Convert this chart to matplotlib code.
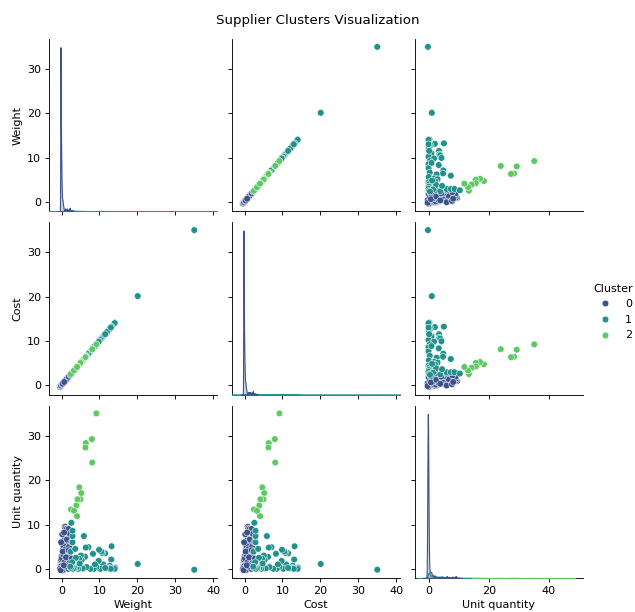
import matplotlib
matplotlib.use("Agg")
import matplotlib.pyplot as plt
import numpy as np
import pandas as pd
import seaborn as sns

# ---- Cluster 0: dense core of small suppliers near the origin ----
weight_c0_core = [
    -0.33, -0.32, -0.31, -0.30, -0.29, -0.28, -0.27, -0.26, -0.25, -0.24, -0.23, -0.22, -0.21, -0.20, -0.19, -0.18, -0.17, -0.16, -0.15, -0.14,
    -0.13, -0.12, -0.11, -0.10, -0.09, -0.08, -0.07, -0.06, -0.05, -0.04, -0.03, -0.02, -0.01, 0.00, 0.01, 0.02, 0.03, 0.04, 0.05, 0.06,
    -0.33, -0.31, -0.30, -0.30, -0.29, -0.29, -0.28, -0.27, -0.27, -0.26, -0.25, -0.24, -0.24, -0.23, -0.22, -0.21, -0.20, -0.19, -0.18, -0.17,
    -0.32, -0.32, -0.31, -0.30, -0.30, -0.29, -0.28, -0.28, -0.27, -0.26, -0.26, -0.25, -0.25, -0.24, -0.23, -0.22, -0.22, -0.21, -0.20, -0.20,
    -0.31, -0.30, -0.29, -0.28, -0.27, -0.26, -0.25, -0.24, -0.22, -0.20, -0.18, -0.16, -0.14, -0.12, -0.10, -0.08, -0.06, -0.04, -0.02, 0.00,
    -0.33, -0.32, -0.31, -0.31, -0.30, -0.29, -0.28, -0.27, -0.26, -0.25, -0.23, -0.21, -0.19, -0.17, -0.15, -0.13, -0.11, -0.09, -0.07, -0.05,
    0.02, 0.04, 0.06, 0.08, 0.10, 0.12, 0.14, 0.16, 0.18, 0.20, 0.22, 0.24, 0.26, 0.28, 0.30, 0.33, 0.36, 0.40, 0.45, 0.50,
    -0.30, -0.30, -0.29, -0.29, -0.28, -0.28, -0.27, -0.27, -0.26, -0.26, -0.25, -0.25, -0.24, -0.24, -0.23, -0.23, -0.22, -0.22, -0.21, -0.21,
    -0.32, -0.31, -0.30, -0.29, -0.28, -0.27, -0.26, -0.25, -0.24, -0.23, -0.21, -0.19, -0.17, -0.15, -0.12, -0.09, -0.06, -0.03, 0.01, 0.05,
    -0.33, -0.31, -0.30, -0.29, -0.28, -0.27, -0.26, -0.25, -0.24, -0.23, -0.22, -0.21, -0.20, -0.19, -0.18, -0.17, -0.16, -0.14, -0.12, -0.10,
    -0.31, -0.31, -0.30, -0.30, -0.29, -0.28, -0.27, -0.26, -0.25, -0.24, -0.22, -0.20, -0.18, -0.15, -0.11, -0.07, -0.02, 0.04, 0.11, 0.20,
    -0.32, -0.30, -0.29, -0.28, -0.27, -0.26, -0.25, -0.24, -0.23, -0.22, -0.21, -0.20, -0.19, -0.18, -0.16, -0.14, -0.12, -0.10, -0.08, -0.06,
    -0.30, -0.29, -0.28, -0.27, -0.26, -0.25, -0.24, -0.23, -0.22, -0.21, -0.20, -0.18, -0.16, -0.13, -0.10, -0.05, 0.00, 0.08, 0.16, 0.26,
    -0.33, -0.32, -0.30, -0.29, -0.28, -0.27, -0.26, -0.25, -0.24, -0.23, -0.22, -0.21, -0.20, -0.19, -0.17, -0.15, -0.13, -0.11, -0.09, -0.07,
    -0.31, -0.29, -0.28, -0.26, -0.25, -0.23, -0.22, -0.20, -0.18, -0.16, -0.13, -0.10, -0.06, -0.02, 0.03, 0.09, 0.15, 0.23, 0.32, 0.42,
]
cost_c0_core = [
    -0.33, -0.32, -0.31, -0.30, -0.29, -0.28, -0.27, -0.26, -0.25, -0.24, -0.23, -0.22, -0.21, -0.20, -0.19, -0.18, -0.17, -0.16, -0.15, -0.14,
    -0.13, -0.12, -0.11, -0.10, -0.09, -0.08, -0.07, -0.06, -0.05, -0.04, -0.03, -0.02, -0.01, 0.00, 0.01, 0.02, 0.03, 0.04, 0.05, 0.06,
    -0.33, -0.31, -0.30, -0.30, -0.29, -0.29, -0.28, -0.27, -0.27, -0.26, -0.25, -0.24, -0.24, -0.23, -0.22, -0.21, -0.20, -0.19, -0.18, -0.17,
    -0.32, -0.32, -0.31, -0.30, -0.30, -0.29, -0.28, -0.28, -0.27, -0.26, -0.26, -0.25, -0.25, -0.24, -0.23, -0.22, -0.22, -0.21, -0.20, -0.20,
    -0.31, -0.30, -0.29, -0.28, -0.27, -0.26, -0.25, -0.24, -0.22, -0.20, -0.18, -0.16, -0.14, -0.12, -0.10, -0.08, -0.06, -0.04, -0.02, 0.00,
    -0.33, -0.32, -0.31, -0.31, -0.30, -0.29, -0.28, -0.27, -0.26, -0.25, -0.23, -0.21, -0.19, -0.17, -0.15, -0.13, -0.11, -0.09, -0.07, -0.05,
    0.02, 0.04, 0.06, 0.08, 0.10, 0.12, 0.14, 0.16, 0.18, 0.20, 0.22, 0.24, 0.26, 0.28, 0.30, 0.33, 0.36, 0.40, 0.45, 0.50,
    -0.30, -0.30, -0.29, -0.29, -0.28, -0.28, -0.27, -0.27, -0.26, -0.26, -0.25, -0.25, -0.24, -0.24, -0.23, -0.23, -0.22, -0.22, -0.21, -0.21,
    -0.32, -0.31, -0.30, -0.29, -0.28, -0.27, -0.26, -0.25, -0.24, -0.23, -0.21, -0.19, -0.17, -0.15, -0.12, -0.09, -0.06, -0.03, 0.01, 0.05,
    -0.33, -0.31, -0.30, -0.29, -0.28, -0.27, -0.26, -0.25, -0.24, -0.23, -0.22, -0.21, -0.20, -0.19, -0.18, -0.17, -0.16, -0.14, -0.12, -0.10,
    -0.31, -0.31, -0.30, -0.30, -0.29, -0.28, -0.27, -0.26, -0.25, -0.24, -0.22, -0.20, -0.18, -0.15, -0.11, -0.07, -0.02, 0.04, 0.11, 0.20,
    -0.32, -0.30, -0.29, -0.28, -0.27, -0.26, -0.25, -0.24, -0.23, -0.22, -0.21, -0.20, -0.19, -0.18, -0.16, -0.14, -0.12, -0.10, -0.08, -0.06,
    -0.30, -0.29, -0.28, -0.27, -0.26, -0.25, -0.24, -0.23, -0.22, -0.21, -0.20, -0.18, -0.16, -0.13, -0.10, -0.05, 0.00, 0.08, 0.16, 0.26,
    -0.33, -0.32, -0.30, -0.29, -0.28, -0.27, -0.26, -0.25, -0.24, -0.23, -0.22, -0.21, -0.20, -0.19, -0.17, -0.15, -0.13, -0.11, -0.09, -0.07,
    -0.31, -0.29, -0.28, -0.26, -0.25, -0.23, -0.22, -0.20, -0.18, -0.16, -0.13, -0.10, -0.06, -0.02, 0.03, 0.09, 0.15, 0.23, 0.32, 0.42,
]
unitq_c0_core = [
    -0.30, 0.10, -0.28, -0.22, -0.25, 0.02, -0.30, 0.80, -0.20, -0.15, -0.29, -0.05, -0.18, -0.27, -0.12, -0.22, 0.05, -0.30, -0.26, -0.15,
    0.00, -0.30, -0.24, -0.26, -0.10, 0.50, -0.29, -0.18, -0.12, -0.30, -0.21, -0.24, -0.02, -0.28, -0.28, 1.40, -0.12, -0.19, -0.30, -0.08,
    -0.29, -0.20, -0.16, -0.30, 0.06, -0.14, -0.23, -0.27, -0.30, -0.25, -0.08, 1.00, -0.25, -0.19, -0.30, -0.04, -0.27, -0.21, -0.11, -0.30,
    -0.22, -0.30, -0.16, 0.04, -0.28, -0.17, -0.30, 0.38, -0.11, -0.26, -0.09, -0.29, -0.30, -0.19, -0.23, -0.23, 0.01, -0.30, 1.25, -0.07,
    -0.30, -0.13, -0.22, -0.30, -0.21, -0.27, 0.85, -0.13, -0.03, -0.30, -0.28, -0.25, -0.06, -0.24, -0.30, 2.00, -0.17, -0.26, -0.29, -0.01,
    -0.27, -0.30, -0.07, -0.20, -0.24, -0.09, -0.16, -0.30, -0.29, -0.20, 0.26, -0.30, -0.03, -0.25, -0.28, -0.13, -0.30, -0.15, -0.22, -0.26,
    0.95, -0.29, -0.12, -0.24, -0.30, 0.05, -0.27, -0.23, -0.30, -0.17, -0.06, -0.21, -0.27, 0.41, -0.30, -0.18, -0.09, -0.30, -0.26, -0.10,
    -0.30, -0.21, -0.23, -0.30, 0.00, -0.26, -0.14, -0.14, -0.30, 0.88, -0.04, -0.21, -0.28, -0.30, -0.12, -0.19, -0.19, -0.29, -0.30, -0.08,
    -0.15, -0.30, -0.25, 0.60, -0.10, -0.30, 0.03, -0.27, -0.27, -0.16, -0.24, -0.30, -0.08, -0.22, -0.20, -0.30, -0.02, 0.23, -0.29, -0.18,
    -0.28, 0.04, -0.30, -0.13, -0.24, -0.24, -0.18, -0.30, -0.22, -0.07, -0.30, -0.27, -0.20, 0.56, -0.30, -0.10, 1.50, -0.26, -0.30, 0.02,
    -0.30, -0.26, -0.17, -0.30, -0.14, -0.28, 0.34, -0.05, -0.30, -0.20, -0.23, -0.07, -0.30, -0.27, -0.11, -0.30, -0.20, -0.26, 0.82, -0.30,
    0.06, -0.30, -0.09, -0.21, -0.29, -0.30, 0.72, -0.18, -0.11, -0.30, -0.01, -0.25, -0.25, -0.30, -0.16, -0.24, -0.14, -0.30, -0.19, -0.22,
    -0.30, -0.27, -0.19, -0.06, -0.30, -0.28, -0.21, 0.25, -0.30, 0.01, -0.23, -0.30, -0.15, -0.13, -0.28, -0.26, -0.30, -0.03, 1.30, -0.24,
    -0.18, -0.30, -0.20, 0.09, -0.30, -0.27, -0.12, -0.30, -0.25, -0.26, 0.04, -0.22, -0.30, -0.08, -0.22, -0.30, 2.10, -0.17, -0.30, -0.12,
    -0.30, 0.49, -0.23, -0.30, -0.17, -0.04, -0.30, -0.24, -0.19, -0.20, -0.30, -0.10, 0.63, -0.27, -0.30, 0.05, -0.21, -0.30, -0.13, -0.26,
]

# ---- Cluster 0: spread points ----
weight_c0_spread = [0.9, 1.3, 2.4, 1.0, 2.2, 0.9, 1.3, 0.3, 0.4, 0.0,
                    -0.4, -0.2, 0.1, 0.5, 1.4, 1.4, 1.9, 2.2, 1.0, 1.6,
                    2.9, 1.8, 2.0, 0.5, 1.5, 2.5, 0.8, 2.0, -0.1, 0.2,
                    2.6, 1.1, 1.7, 2.2, 0.6, 1.2, 2.7, 0.3, 1.9, 0.7]
cost_c0_spread = [0.9, 1.3, 2.4, 1.0, 2.2, 0.9, 1.3, 0.3, 0.4, 0.0,
                  -0.4, -0.2, 0.1, 0.5, 1.4, 1.4, 1.9, 2.2, 1.0, 1.6,
                  2.9, 1.8, 2.0, 0.5, 1.5, 2.5, 0.8, 2.0, -0.1, 0.2,
                  2.6, 1.1, 1.7, 2.2, 0.6, 1.2, 2.7, 0.3, 1.9, 0.7]
unitq_c0_spread = [9.5, 8.7, 8.4, 9.1, 7.2, 6.8, 6.1, 5.5, 4.4, 2.8,
                   0.0, -0.3, 2.4, 5.2, 6.6, 9.0, 9.0, 7.9, 4.4, 3.5,
                   0.1, 0.0, 5.0, 3.2, 2.0, 1.2, 1.5, 3.0, 6.0, 7.8,
                   6.0, 0.5, 1.0, 1.9, 0.8, 2.6, 2.3, 3.9, 4.2, 8.2]

# ---- Cluster 1 ----
weight_c1 = [35.0, 20.1, 14.1, 14.0, 13.1, 13.2, 12.7, 12.6, 11.5, 11.0,
             10.7, 10.5, 10.2, 9.9, 9.8, 9.2, 8.5, 8.3, 7.6, 7.1,
             6.6, 6.4, 6.2, 5.9, 5.6, 5.3, 5.1, 4.4, 4.6, 4.0,
             3.8, 3.4, 3.0, 2.9, 2.9, 2.9, 2.6, 2.5, 2.8, 2.4,
             12.0, 13.0, 11.5, 8.8, 4.8, 3.6, 2.3]
cost_c1 = [35.0, 20.1, 14.1, 14.0, 13.1, 13.2, 12.7, 12.6, 11.5, 11.0,
           10.7, 10.5, 10.2, 9.9, 9.8, 9.2, 8.5, 8.3, 7.6, 7.1,
           6.6, 6.4, 6.2, 5.9, 5.6, 5.3, 5.1, 4.4, 4.6, 4.0,
           3.8, 3.4, 3.0, 2.9, 2.9, 2.9, 2.6, 2.5, 2.8, 2.4,
           12.0, 13.0, 11.5, 8.8, 4.8, 3.6, 2.3]
unitq_c1 = [-0.2, 1.1, 0.3, 0.0, 2.1, 5.1, 0.7, 0.2, 3.5, 1.0,
            3.6, 3.9, 0.0, 4.3, 1.8, 0.4, 0.0, 3.4, 0.0, 4.9,
            0.4, 4.8, 2.7, 7.4, 0.1, 2.0, 3.0, 0.0, 2.3, 0.3,
            2.5, 0.1, 0.0, 6.0, 7.4, 8.6, 10.4, 0.2, 1.5, 3.9,
            0.1, 0.0, 0.2, 1.0, 1.2, 4.5, 0.5]

# ---- Cluster 2 ----
weight_c2 = [9.2, 8.0, 6.4, 6.3, 8.1, 4.7, 5.2, 5.0, 4.2, 3.9, 2.5, 3.3, 4.1]
cost_c2 = [9.2, 8.0, 6.4, 6.3, 8.1, 4.7, 5.2, 5.0, 4.2, 3.9, 2.5, 3.3, 4.1]
unitq_c2 = [35.1, 29.3, 28.4, 27.4, 24.0, 18.4, 17.1, 15.7, 15.7, 14.3, 13.4, 13.1, 11.9]

groups = [
    (0, weight_c0_core + weight_c0_spread, cost_c0_core + cost_c0_spread,
     unitq_c0_core + unitq_c0_spread),
    (1, weight_c1, cost_c1, unitq_c1),
    (2, weight_c2, cost_c2, unitq_c2),
]
frames = [pd.DataFrame({"Weight": w, "Cost": c, "Unit quantity": u, "Cluster": lab})
          for lab, w, c, u in groups]
df = pd.concat(frames, ignore_index=True)

DPI = 80
plt.rcParams["figure.dpi"] = DPI
palette = sns.color_palette("viridis", 3)
g = sns.pairplot(df, hue="Cluster", palette=palette,
                 diag_kws=dict(bw_adjust=0.25, cut=12))
fig = g.figure
fig.set_size_inches(635 / DPI, 612 / DPI)
fig.subplots_adjust(left=49 / 635, right=583 / 635, bottom=1 - 578 / 612,
                    top=1 - 39 / 612, wspace=0.089, hspace=0.063)

# column x-ranges as in the reference
g.axes[-1, 0].set_xlim(-3.3, 41.0)
g.axes[-1, 1].set_xlim(-3.3, 41.0)
g.axes[-1, 2].set_xlim(-4.5, 51.3)

g._legend.set_bbox_to_anchor((1.012, 0.49), transform=fig.transFigure)
fig.suptitle("Supplier Clusters Visualization", y=1 - 14 / 612, va="top")
fig.savefig("out.png", dpi=DPI)
